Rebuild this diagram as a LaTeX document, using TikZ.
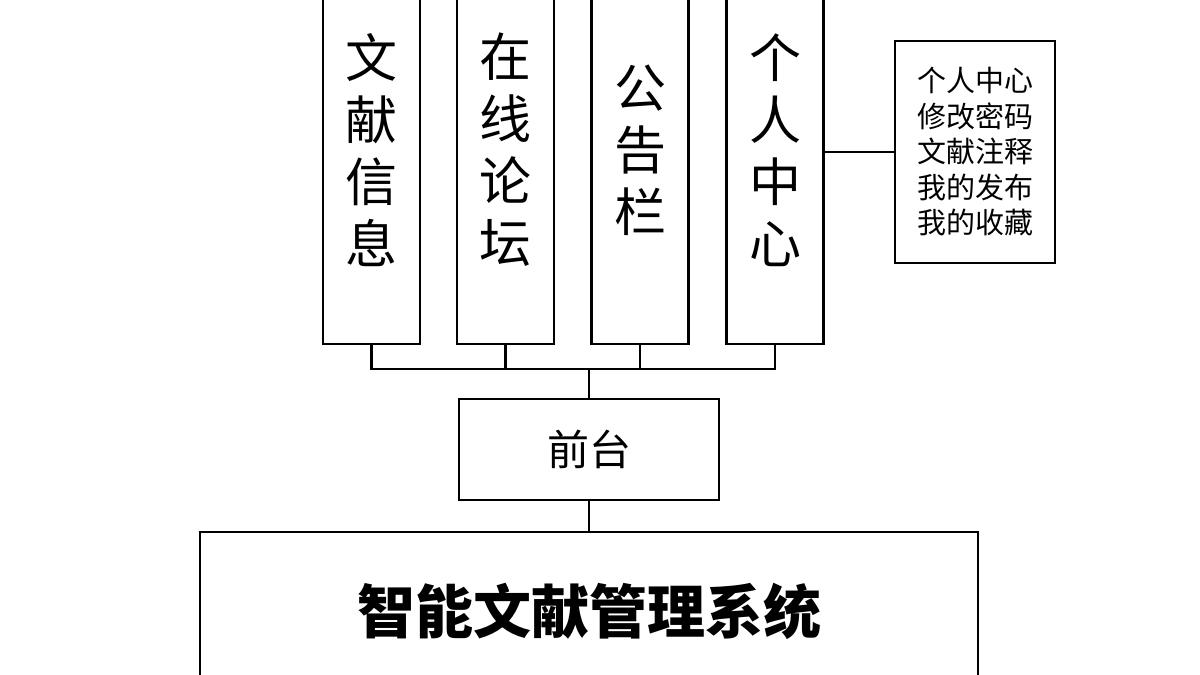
\documentclass[tikz,border=0pt]{standalone}
\usepackage{fontspec}
\setmainfont{Noto Sans CJK SC}
\begin{document}
\begin{tikzpicture}[x=0.5pt,y=-0.5pt,
  box/.style={draw, line width=1.2pt, inner sep=0pt, align=center},
  tall/.style={box, minimum width=48.5pt, minimum height=194pt, font=\fontsize{26}{31}\selectfont},
  link/.style={line width=1.2pt}]
\useasboundingbox (0,0) rectangle (1200,675);
\clip (0,0) rectangle (1200,675);
\node[tall] (wx) at (371.5,150) {文\\献\\信\\息};
\node[tall] (zx) at (505.5,150) {在\\线\\论\\坛};
\node[tall] (gg) at (640,150) {公\\告\\栏};
\node[tall] (gr) at (775,150) {个\\人\\中\\心};
\node[box, minimum width=80pt, minimum height=111pt, font=\fontsize{14.5}{17.75}\selectfont] (menu) at (975,152) {个人中心\\修改密码\\文献注释\\我的发布\\我的收藏};
\node[box, minimum width=130pt, minimum height=50.5pt, font=\fontsize{21}{21}\selectfont] (qt) at (589,449.5) {前台};
\node[box, minimum width=389pt, minimum height=79pt, font=\fontsize{29}{29}\selectfont\bfseries] (sys) at (589,611) {智能文献管理系统};
\coordinate (j) at (589,369);
\draw[link] (wx.south) |- (gr.south |- j) -- (gr.south);
\draw[link] (zx.south) -- (zx.south |- j);
\draw[link] (gg.south) -- (gg.south |- j);
\draw[link] (j) -- (qt.north);
\draw[link] (qt.south) -- (sys.north);
\draw[link] (menu.west -| gr.east) -- (menu.west);
\end{tikzpicture}
\end{document}
